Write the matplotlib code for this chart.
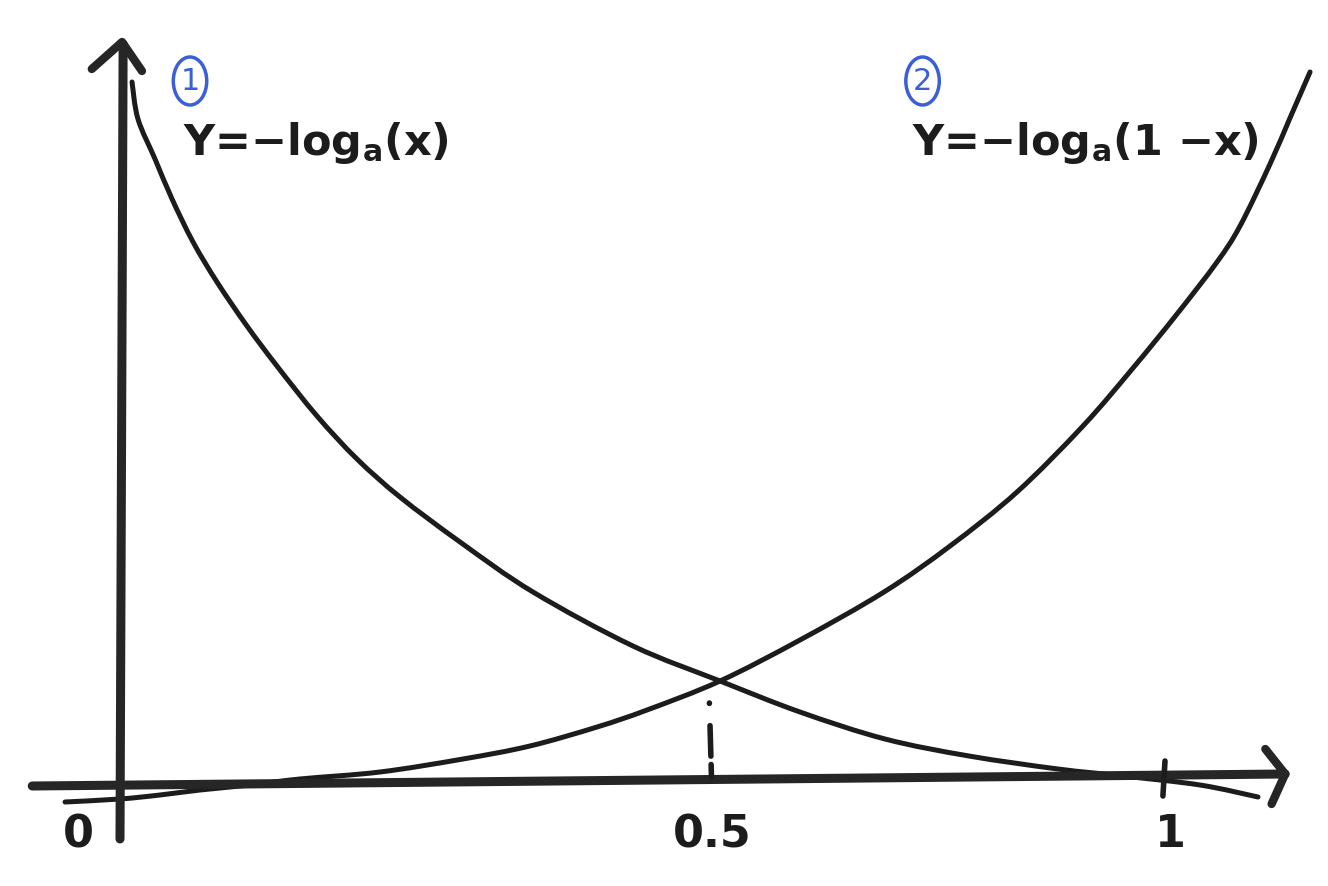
import matplotlib
matplotlib.use("Agg")
import matplotlib.pyplot as plt
from matplotlib.patches import Ellipse, PathPatch
from matplotlib.path import Path

plt.rcParams['lines.scale_dashes'] = False
plt.rcParams['mathtext.default'] = 'regular'

# ---- data (x: 0 at y-axis, 1 at the tick "1") ----
curve1_x = [0.0115, 0.0172, 0.0335, 0.0498, 0.0699, 0.0928, 0.1215, 0.1502, 0.1885,
            0.2268, 0.2679, 0.3254, 0.3952, 0.4909, 0.5742, 0.6507, 0.7321, 0.8124,
            0.8976, 0.9598, 1.0335, 1.0890]
curve1_y = [7.02, 6.65, 6.25, 5.85, 5.42, 5.02, 4.58, 4.18, 3.68,
            3.25, 2.87, 2.42, 1.92, 1.38, 1.03, 0.72, 0.45, 0.28,
            0.15, 0.08, -0.01, -0.13]

curve2_x = [-0.0526, 0.0, 0.0383, 0.0766, 0.1244, 0.1722, 0.2488, 0.3282, 0.3923,
            0.4565, 0.5043, 0.5742, 0.6507, 0.7311, 0.7943, 0.8584, 0.9215,
            0.9694, 1.0115, 1.0498, 1.0718, 1.1005, 1.1196, 1.1388]
curve2_y = [-0.18, -0.15, -0.11, -0.06, -0.01, 0.05, 0.12, 0.25, 0.38,
            0.57, 0.74, 1.03, 1.44, 1.92, 2.38, 2.92, 3.58,
            4.16, 4.70, 5.22, 5.58, 6.20, 6.66, 7.12]

label1 = "Y=−log$_a$(x)"
label2 = "Y=−log$_a$(1 −x)"
circle_labels = ["1", "2"]
tick_labels = ["0", "0.5", "1"]
tick_pos = [-0.04, 0.567, 1.005]

INK = "#1c1c1c"
AXIS_INK = "#262626"
BLUE = "#3a5fd6"


def smooth_path(xs, ys):
    """Cubic Bezier path passing through the given points (Catmull-Rom style)."""
    pts = list(zip(xs, ys))
    n = len(pts)
    verts = [pts[0]]
    codes = [Path.MOVETO]
    for i in range(n - 1):
        p0 = pts[i - 1] if i > 0 else pts[i]
        p1 = pts[i]
        p2 = pts[i + 1]
        p3 = pts[i + 2] if i + 2 < n else pts[i + 1]
        c1 = (p1[0] + (p2[0] - p0[0]) / 6, p1[1] + (p2[1] - p0[1]) / 6)
        c2 = (p2[0] - (p3[0] - p1[0]) / 6, p2[1] - (p3[1] - p1[1]) / 6)
        verts += [c1, c2, p2]
        codes += [Path.CURVE4] * 3
    return Path(verts, codes)


fig = plt.figure(figsize=(13.28, 8.87), dpi=100)
ax = fig.add_axes([0, 0, 1, 1])
ax.set_xlim(-120 / 1045, 1208 / 1045)
ax.set_ylim(-1.02, 7.85)
ax.axis("off")

# axes
ax.plot([0.0, 0.003], [-0.55, 7.40], color=AXIS_INK, lw=6.5, solid_capstyle="round")
ax.plot([-0.027, 0.002, 0.021], [7.15, 7.42, 7.13], color=AXIS_INK, lw=6.0,
        solid_capstyle="round", solid_joinstyle="round")
ax.plot([-0.084, 1.115], [-0.02, 0.10], color=AXIS_INK, lw=6.5, solid_capstyle="round")
ax.plot([1.096, 1.115, 1.102], [0.35, 0.10, -0.20], color=AXIS_INK, lw=6.0,
        solid_capstyle="round", solid_joinstyle="round")
# tick at 1
ax.plot([1.0, 0.998], [0.23, -0.12], color=INK, lw=4.0, solid_capstyle="round")
# dashed guide at 0.5
ax.plot([0.564, 0.566], [0.81, 0.07], color=INK, lw=4.0, dash_capstyle="round",
        dashes=(0.3, 16, 22, 6, 9, 20))

# curves (smooth strokes through the read points)
for xs, ys in [(curve1_x, curve1_y), (curve2_x, curve2_y)]:
    ax.add_patch(PathPatch(smooth_path(xs, ys), fill=False, ec=INK, lw=3.6,
                           capstyle="round", joinstyle="round"))

# labels
ax.text(0.060, 6.42, label1, fontsize=31, fontweight="bold", color=INK,
        ha="left", va="center", family="DejaVu Sans")
ax.text(0.758, 6.42, label2, fontsize=31, fontweight="bold", color=INK,
        ha="left", va="center", family="DejaVu Sans")

for cx, txt in zip([0.067, 0.768], circle_labels):
    ax.add_patch(Ellipse((cx, 7.03), 0.032, 0.48, fill=False, ec=BLUE, lw=2.5))
    ax.text(cx, 7.03, txt, fontsize=22, color=BLUE, ha="center", va="center")

for x, t in zip(tick_pos, tick_labels):
    ax.text(x, -0.5, t, fontsize=32, fontweight="bold", color=INK, ha="center", va="center")

fig.savefig("out.png", dpi=100, facecolor="white")
